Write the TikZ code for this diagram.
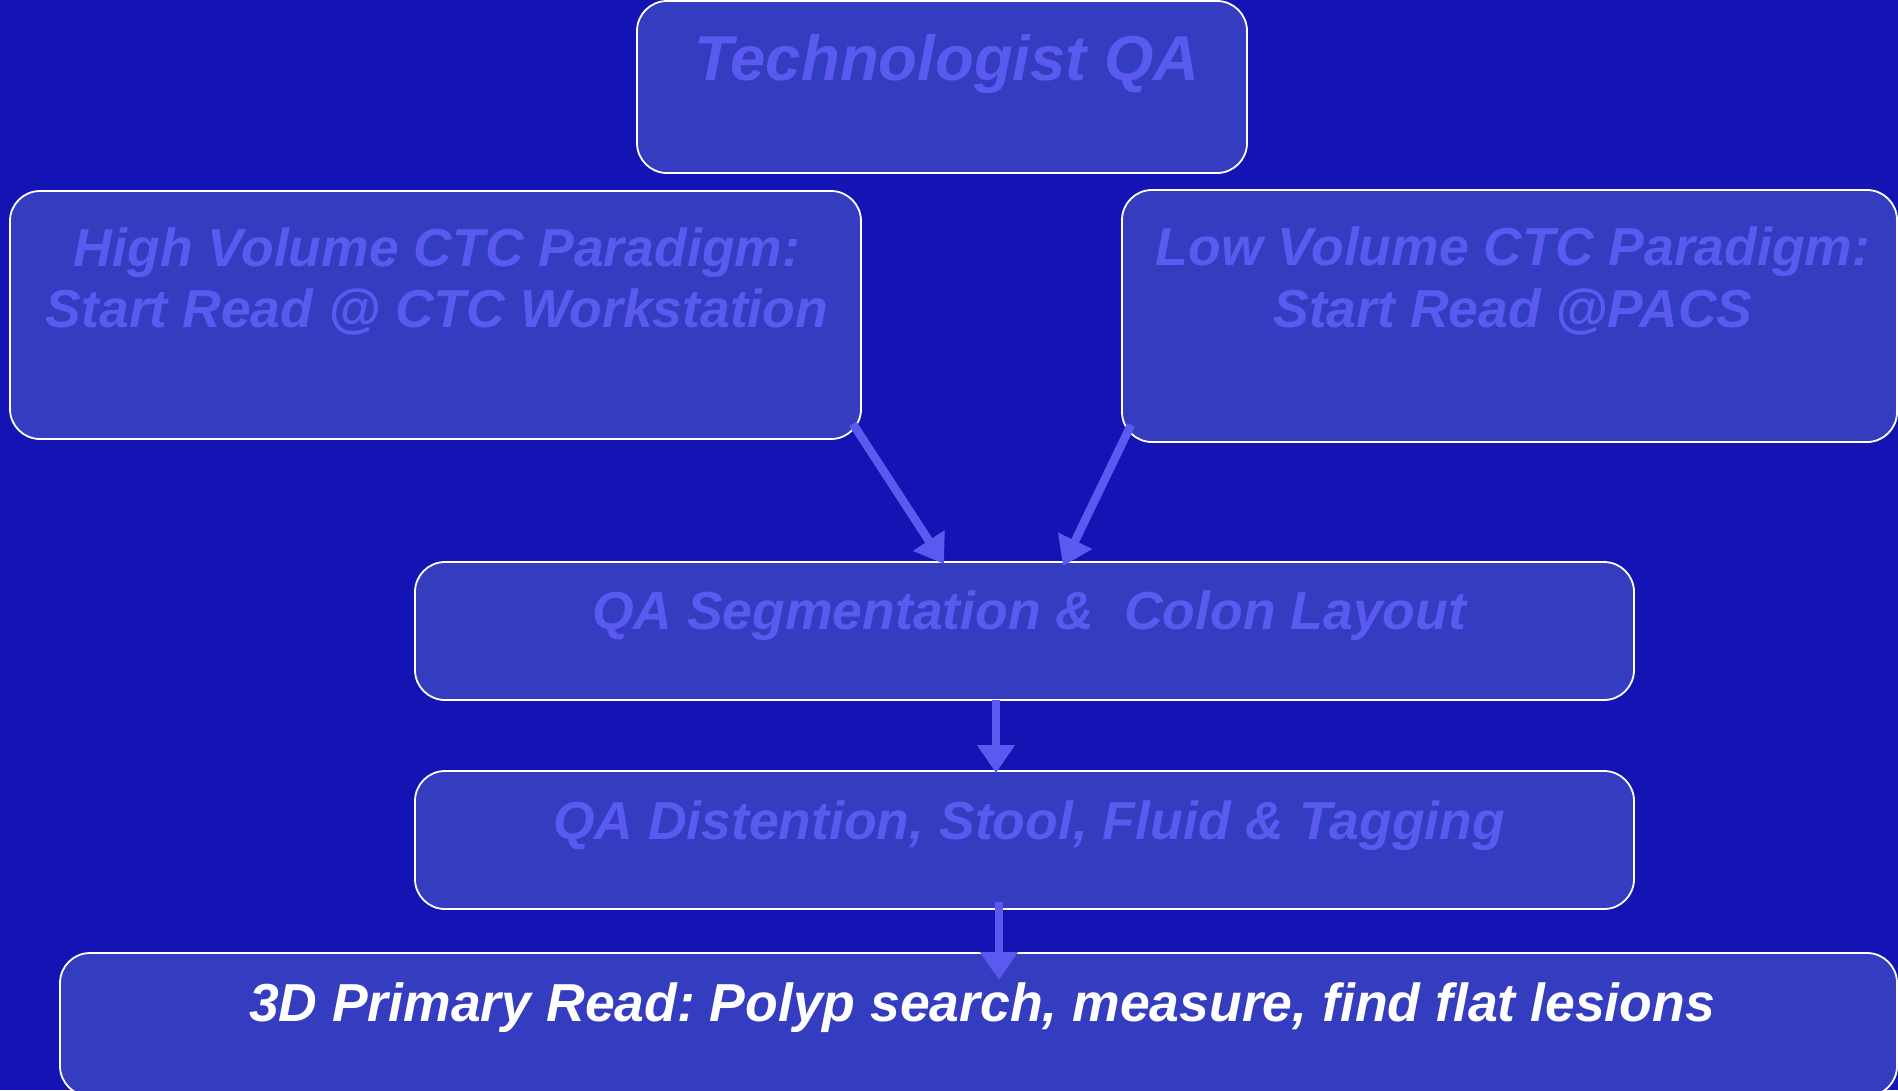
\documentclass[tikz,border=0pt]{standalone}
\usepackage{fontspec}
\setmainfont{Liberation Sans}
\usetikzlibrary{arrows.meta,calc}
\definecolor{bg}{HTML}{1414B4}
\definecolor{boxfill}{HTML}{343CC0}
\definecolor{ink}{HTML}{5A5AF0}
\tikzset{
  box/.style={draw=white, line width=1.8pt, fill=boxfill, rounded corners=30pt},
  txt/.style={anchor=base, text=ink, font=\fontsize{53.5}{63}\selectfont\bfseries\itshape\frenchspacing, inner sep=0pt},
  flow/.style={draw=ink, line width=8.5pt, -{Triangle[length=28pt,width=36pt]}}
}
\begin{document}
\begin{tikzpicture}[x=1pt,y=-1pt]
\fill[bg] (0,0) rectangle (1898,1090);
\useasboundingbox (0,0) rectangle (1898,1090);
% boxes
\draw[box] (637,1) rectangle (1247,173);
\draw[box] (10,191) rectangle (861,439);
\coordinate (hv) at (861,439);
\draw[box] (1122,190) rectangle (1897,442);
\coordinate (lv) at (1122,442);
\draw[box] (415,562) rectangle (1634,700);
\coordinate (seg) at (415,562);
\draw[box] (415,771) rectangle (1634,909);
\coordinate (dis) at (415,771);
\draw[box] (60,953) rectangle (1897,1096);
\coordinate (prim) at (60,953);
% texts
\node[txt, font=\fontsize{63.5}{63}\selectfont\bfseries\itshape] (t1) at (947,80) {Technologist QA};
\node[txt] (t2a) at (437,266) {High Volume CTC Paradigm:};
\node[txt] (t2b) at (437,327) {Start Read @ CTC Workstation};
\node[txt] (t3a) at (1513,265) {Low Volume CTC Paradigm:};
\node[txt] (t3b) at (1513,327) {Start Read @PACS};
\node[txt] (t4) at (1029,629) {QA Segmentation \&\ \ Colon Layout};
\node[txt] (t5) at (1029,839) {QA Distention, Stool, Fluid \& Tagging};
\node[txt, text=white] (t6) at (982,1021) {3D Primary Read: Polyp search, measure, find flat lesions};
% arrows
\draw[flow] ($(hv)+(-8,-15)$) -- ($(seg)+(529,2)$);
\draw[flow] ($(lv)+(9,-17)$) -- ($(seg)+(648,4)$);
\draw[flow] ($(seg)+(581,138)$) -- ($(dis)+(581,2)$);
\draw[flow] ($(dis)+(584,131)$) -- ($(prim)+(939,27)$);
\end{tikzpicture}
\end{document}
